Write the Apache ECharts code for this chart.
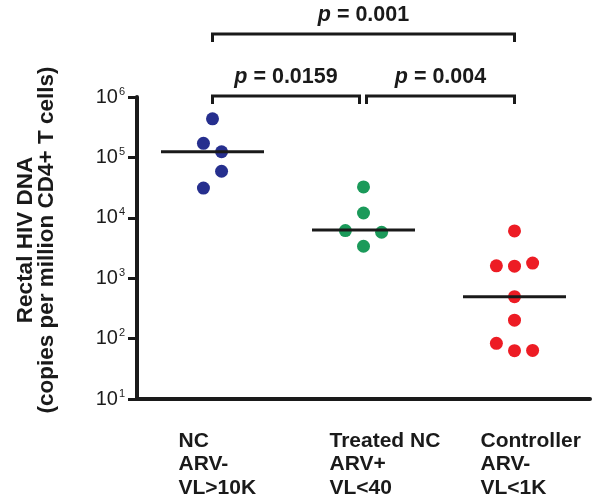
<!DOCTYPE html>
<html>
<head>
<meta charset="utf-8">
<script src="https://cdn.jsdelivr.net/npm/echarts@6/dist/echarts.min.js"></script>
<style>
html,body{margin:0;padding:0;background:#fff;}
#chart{width:600px;height:503px;}
</style>
</head>
<body>
<div id="chart"></div>
<script>
// ---- data ----
const categories = ['NC\nARV-\nVL>10K', 'Treated NC\nARV+\nVL<40', 'Controller\nARV-\nVL<1K'];
const ncValues = [435000, 171000, 124000, 59000, 31000];
const ncJitter = [0, -0.06, 0.06, 0.06, -0.06];
const treatedValues = [32500, 12000, 6150, 5770, 3380];
const treatedJitter = [0, 0, -0.12, 0.12, 0];
const controllerValues = [6070, 1600, 1580, 1780, 495, 202, 83.5, 63, 63.8];
const controllerJitter = [0, -0.12, 0, 0.12, 0, 0, -0.12, 0, 0.12];
const medians = [124000, 6300, 495];
const comparisons = [ // [fromGroup, toGroup, level, label]
  [0, 2, 1, '0.001'],
  [0, 1, 0, '0.0159'],
  [1, 2, 0, '0.004']
];
const yTickExponents = [1, 2, 3, 4, 5, 6];

// ---- style ----
const FONT = "'Liberation Sans', Arial, sans-serif";
const INK = '#1a1a1a';
const colors = ['#262f8e', '#1b9a5a', '#ed1c24'];
const bracketRise = [1, 63];
const bracketLeg = 8;

function pts(vals, jit, g) { return vals.map((v, i) => [g + jit[i], v]); }

const chart = echarts.init(document.getElementById('chart'), null, {renderer: 'canvas'});

const option = {
  animation: false,
  backgroundColor: '#fff',
  grid: {left: 137, right: 10, top: 97, bottom: 104, containLabel: false},
  xAxis: [{
    type: 'category',
    data: categories,
    boundaryGap: true,
    axisLine: {onZero: false, lineStyle: {color: INK, width: 4}},
    axisTick: {alignWithLabel: true, length: 7, lineStyle: {color: INK, width: 3}},
    splitLine: {show: false},
    axisLabel: {
      interval: 0, align: 'left', padding: [0, 0, 0, -34], margin: 30,
      fontFamily: FONT, fontSize: 21, fontWeight: 'bold', color: INK, lineHeight: 23.5
    }
  }, {
    type: 'value', min: -0.5, max: 2.5, show: false
  }],
  yAxis: {
    type: 'log', logBase: 10, min: Math.pow(10, yTickExponents[0]), max: Math.pow(10, yTickExponents[yTickExponents.length - 1]),
    interval: 1,
    axisLine: {show: true, onZero: false, lineStyle: {color: INK, width: 4}},
    axisTick: {show: true, length: 9, lineStyle: {color: INK, width: 3}},
    splitLine: {show: false},
    name: 'Rectal HIV DNA\n(copies per million CD4+ T cells)',
    nameLocation: 'middle',
    nameRotate: 90,
    nameGap: 80,
    nameTextStyle: {fontFamily: FONT, fontSize: 22.5, fontWeight: 'bold', color: INK, lineHeight: 21, padding: [0, 0, 0, 16]},
    axisLabel: {
      margin: 12,
      formatter: function (v) { return '{b|10}{s|' + Math.round(Math.log10(v)) + '}'; },
      rich: {
        b: {fontFamily: FONT, fontSize: 20, color: INK, lineHeight: 22},
        s: {fontFamily: FONT, fontSize: 11, color: INK, verticalAlign: 'top', lineHeight: 12, padding: [0, 0, 0, 1]}
      }
    }
  },
  series: [
    {type: 'scatter', xAxisIndex: 1, symbolSize: 13, itemStyle: {color: colors[0], opacity: 1}, data: pts(ncValues, ncJitter, 0)},
    {type: 'scatter', xAxisIndex: 1, symbolSize: 13, itemStyle: {color: colors[1], opacity: 1}, data: pts(treatedValues, treatedJitter, 1)},
    {type: 'scatter', xAxisIndex: 1, symbolSize: 13, itemStyle: {color: colors[2], opacity: 1}, data: pts(controllerValues, controllerJitter, 2)},
    {type: 'scatter', xAxisIndex: 1, symbol: 'rect', symbolSize: [103, 3], itemStyle: {color: INK, opacity: 1}, z: 5,
      data: medians.map((m, i) => [i, m])},
    {
      type: 'custom', xAxisIndex: 1, clip: false, silent: true, z: 6,
      data: comparisons.map(c => [c[0], c[1], c[2], c[3]]),
      renderItem: function (params, api) {
        const g0 = api.value(0), g1 = api.value(1), lvl = api.value(2);
        const label = comparisons[params.dataIndex][3];
        let x1 = api.coord([g0, 1e6])[0];
        let x2 = api.coord([g1, 1e6])[0];
        if (lvl === 0) {
          if (g0 === 1) x1 += 3;
          if (g1 === 1) x2 -= 4;
        }
        const y = params.coordSys.y - bracketRise[lvl];
        return {
          type: 'group',
          children: [
            {type: 'polyline', shape: {points: [[x1, y + bracketLeg], [x1, y], [x2, y], [x2, y + bracketLeg]]},
              style: {stroke: INK, lineWidth: 3, fill: null, lineJoin: 'miter'}},
            {type: 'text', x: (x1 + x2) / 2, y: y - 8,
              style: {
                text: '{i|p}{n| = ' + label + '}',
                align: 'center', verticalAlign: 'bottom',
                rich: {
                  i: {fontFamily: FONT, fontSize: 21.5, fontWeight: 'bold', fontStyle: 'italic', fill: INK},
                  n: {fontFamily: FONT, fontSize: 21.5, fontWeight: 'bold', fill: INK}
                }
              }}
          ]
        };
      }
    }
  ]
};
chart.setOption(option);
</script>
</body>
</html>
